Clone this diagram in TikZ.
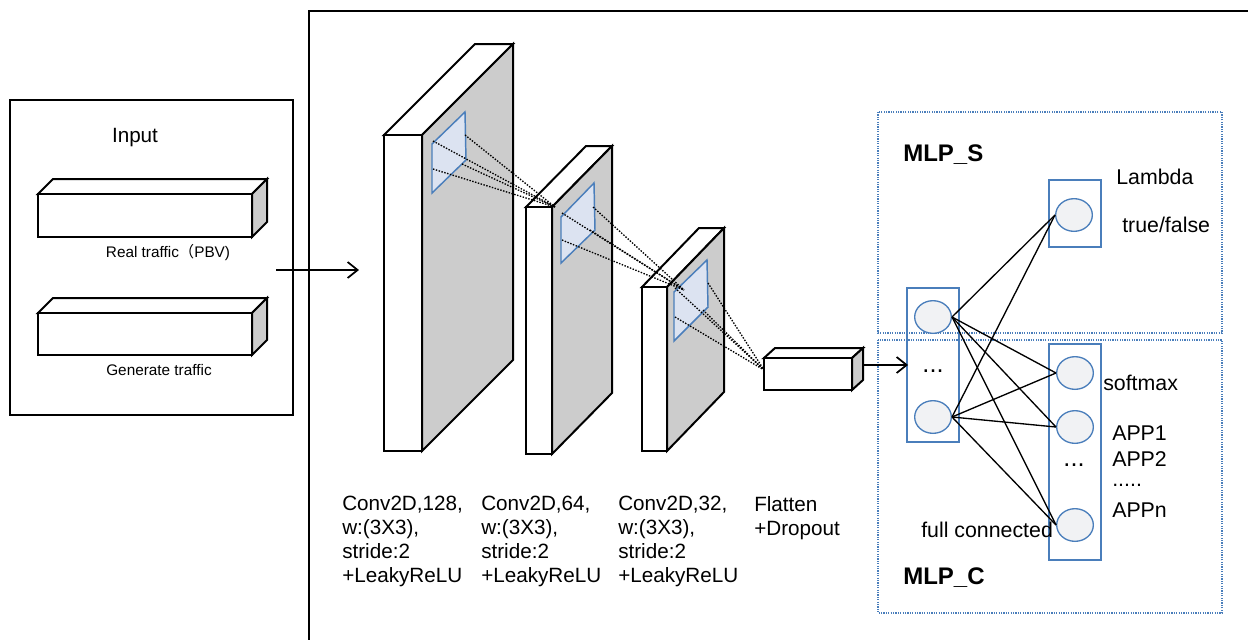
\documentclass[tikz,border=0pt]{standalone}
\usepackage{fontspec}
\setmainfont{Liberation Sans}
\newfontfamily\cjk{Noto Sans CJK SC}
\usetikzlibrary{arrows.meta,shapes.geometric}
\definecolor{sidegray}{HTML}{CCCCCC}
\definecolor{kernfill}{HTML}{DCE3F1}
\definecolor{kernline}{HTML}{4A7EBB}
\definecolor{cellfill}{HTML}{F1F2F4}
\tikzset{
  edge/.style={line width=1.5pt, line join=miter},
  kernel/.style={draw=kernline, fill=kernfill, line width=1.1pt},
  probe/.style={line width=1pt, dash pattern=on 1.1pt off 1.1pt},
  group/.style={draw=kernline, line width=0.9pt, dash pattern=on 0.9pt off 0.9pt},
  layerbox/.style={draw=kernline, line width=1.1pt},
  cell/.style={ellipse, draw=kernline, fill=cellfill, line width=1pt,
               minimum width=27.5pt, minimum height=24.5pt, inner sep=0},
  lbl/.style={font=\fontsize{15.5}{18}\selectfont, inner sep=0},
  small/.style={font=\fontsize{11.5}{13}\selectfont, inner sep=0},
  big/.style={font=\fontsize{16}{18}\selectfont, inner sep=0},
  dots/.style={font=\fontsize{19}{20}\selectfont, inner sep=0},
  title/.style={font=\fontsize{18}{20}\selectfont\bfseries, inner sep=0},
  flow/.style={line width=1.5pt, -{Straight Barb[length=7.5pt, width=12pt, line width=1.3pt]}},
  link/.style={line width=1pt},
}
% cuboid: front face (#1,#2)-(#3,#4), depth offset (#5,#6) towards upper right
\newcommand{\cuboid}[6]{%
  \filldraw[edge, fill=white] (#1,#2) -- (#1+#5,#2-#6) -- (#3+#5,#2-#6) -- (#3,#2) -- cycle;
  \filldraw[edge, fill=sidegray] (#3,#2) -- (#3+#5,#2-#6) -- (#3+#5,#4-#6) -- (#3,#4) -- cycle;
  \filldraw[edge, fill=white] (#1,#2) rectangle (#3,#4);
}
\begin{document}
\begin{tikzpicture}[x=0.75pt, y=-0.75pt]
\useasboundingbox (0,0) rectangle (1248,640);

% ---- input panel ----
\draw[line width=1.3pt] (10,100) rectangle (293,415);
\node[lbl] (inputlbl) at (135,138) {Input};
\cuboid{38}{194}{252}{237}{15}{15}
\node[small] (reallbl) at (168,253) {Real traffic{\cjk （}PBV)};
\cuboid{38}{313}{252}{355}{15}{15}
\node[small] (genlbl) at (159,370) {Generate traffic};

% ---- model frame (runs off the right and bottom edges) ----
\draw[line width=1.5pt] (1248,11) -- (309,11) -- (309,640);

\coordinate (inarr) at (276,270);
\coordinate (convin) at (359,270);
\draw[flow] (inarr) -- (convin);

% ---- convolution blocks ----
\cuboid{384}{135}{422}{451}{91}{91}
\cuboid{526}{207}{552}{454}{60}{61}
\cuboid{642}{287}{667}{451}{57}{59}

% kernels
\filldraw[kernel] (432,144) -- (465,112) -- (466,160) -- (432,193) -- cycle;
\filldraw[kernel] (561,217) -- (594,183) -- (595,230) -- (561,263) -- cycle;
\filldraw[kernel] (674,292) -- (707,260) -- (708,307) -- (674,341) -- cycle;

% receptive-field rays
\coordinate (k1a) at (465,135); \coordinate (k1b) at (433,141);
\coordinate (k1c) at (462,164); \coordinate (k1d) at (433,169);
\coordinate (k2a) at (593,207); \coordinate (k2b) at (562,213);
\coordinate (k2c) at (590,230); \coordinate (k2d) at (562,240);
\coordinate (k3a) at (708,283); \coordinate (k3b) at (675,288);
\coordinate (k3c) at (703,310); \coordinate (k3d) at (675,317);
\coordinate (f2) at (555,207);
\coordinate (f3) at (684,290);
\coordinate (f4) at (764,370);
\foreach \s in {a,b,c,d}{
  \draw[probe] (k1\s) -- (f2);
  \draw[probe] (k2\s) -- (f3);
  \draw[probe] (k3\s) -- (f4);
}

% ---- flatten ----
\cuboid{764}{358}{852}{390}{11}{10}
\coordinate (flatout) at (863,365);

% ---- layer captions ----
\node[lbl, align=left, anchor=north west] (c1lbl) at (342,496) {Conv2D,128,\\w:(3X3),\\stride:2\\+LeakyReLU};
\node[lbl, align=left, anchor=north west] (c2lbl) at (481,496) {Conv2D,64,\\w:(3X3),\\stride:2\\+LeakyReLU};
\node[lbl, align=left, anchor=north west] (c3lbl) at (618,496) {Conv2D,32,\\w:(3X3),\\stride:2\\+LeakyReLU};
\node[lbl, align=left, anchor=north west] (flatlbl) at (754,496) {Flatten\\+Dropout};

% ---- MLP heads ----
\draw[group] (878,112) rectangle (1222,333);
\draw[group] (878,340) rectangle (1222,613);
\node[title, anchor=west] (mlps) at (903,155) {MLP\_S};
\node[title, anchor=west] (mlpc) at (903,578) {MLP\_C};

\draw[layerbox] (907,288) rectangle (959,442);
\coordinate (hidin) at (908,365);
\draw[flow] (flatout) -- (hidin);
\node[cell] (h1) at (933,317) {};
\node[cell] (h2) at (933,417) {};
\node[dots] (hdots) at (933,371) {...};

\draw[layerbox] (1049,180) rectangle (1101,247);
\node[cell] (s1) at (1074,215) {};

\draw[layerbox] (1049,344) rectangle (1101,560);
\node[cell] (o1) at (1075,373) {};
\node[cell] (o2) at (1075,427) {};
\node[cell] (o3) at (1075,525) {};
\node[dots] (odots) at (1074,465) {...};

\foreach \h in {h1,h2}{
  \draw[link] (\h.east) -- (s1.west);
  \foreach \o in {o1,o2,o3}{
    \draw[link] (\h.east) -- (\o.west);
  }
}

\node[big, anchor=west] (lam) at (1116,177) {Lambda};
\node[big, anchor=west] (tf) at (1122,225) {true/false};
\node[big, anchor=west] (soft) at (1103,383) {softmax};
\node[big, anchor=west] (app1) at (1112,433) {APP1};
\node[big, anchor=west] (app2) at (1112,459) {APP2};
\node[big, anchor=west] (appd) at (1112,485) {.....};
\node[big, anchor=west] (appn) at (1112,510) {APPn};
\node[big, anchor=west] (fc) at (921,530) {full connected};
\end{tikzpicture}
\end{document}
